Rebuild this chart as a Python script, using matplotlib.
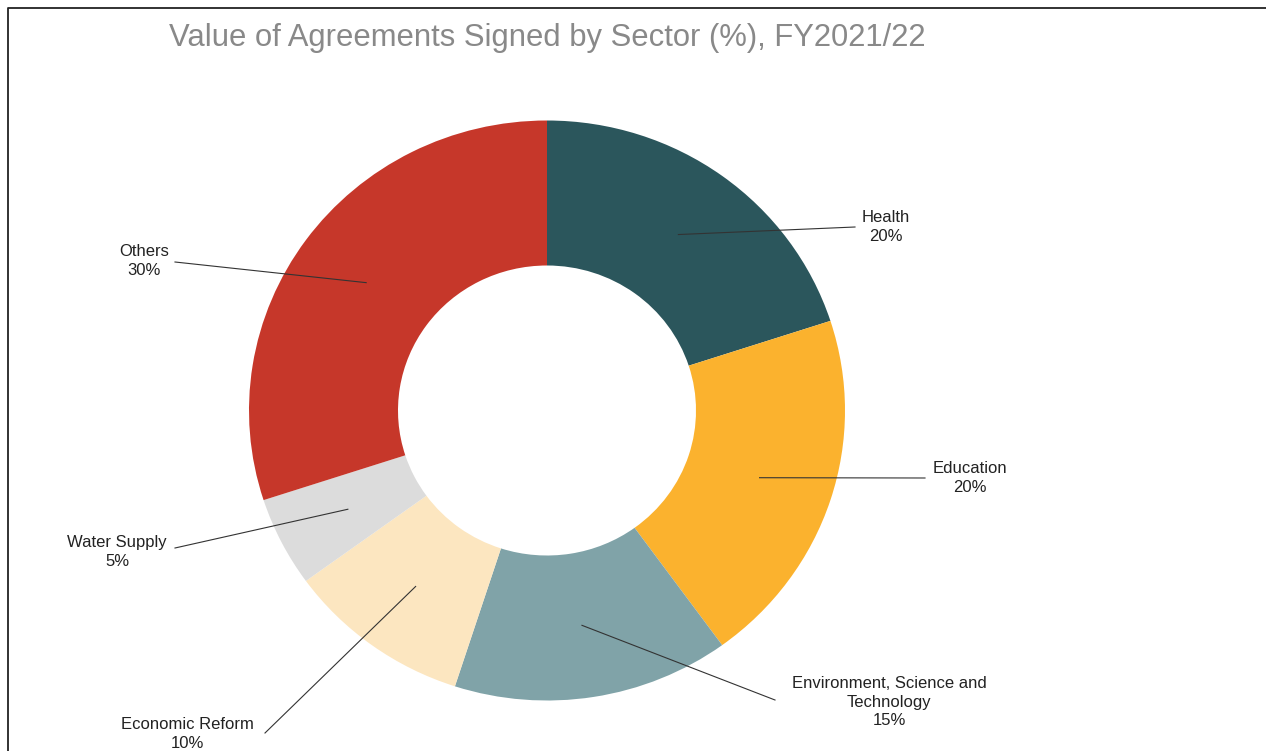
import numpy as np
import matplotlib.pyplot as plt

plt.rcParams['font.family'] = ['Liberation Sans', 'DejaVu Sans']

# Dane
setores = ['Health', 'Education', 'Environment, Science and\nTechnology',
           'Economic Reform', 'Water Supply', 'Others']
valores = [20, 20, 15, 10, 5, 30]
cores = ['#2B565C', '#FBB22E', '#80A3A8', '#FCE6C0', '#DCDCDC', '#C6372A']

# posicoes dos rotulos (pixels, origem no canto superior esquerdo)
pos_rotulos = [(886, 227), (970, 478), (889, 702), (187, 734), (117, 552), (144, 261)]
fim_linha = [(855, 227), (925, 478), (775, 700), (265, 733), (175, 548), (175, 262)]

W, H = 1266, 751
esc = 298 / 290  # anel levemente achatado na vertical


def py(y):
    return (H - y) * esc


fig = plt.figure(figsize=(W / 100, H / 100), dpi=100)
ax = fig.add_axes([0, 0, 1, 1])

cx, cy, R = 547, py(410.5), 298
wedges, _ = ax.pie(valores, colors=cores, startangle=90, counterclock=False,
                   center=(cx, cy), radius=R, frame=True,
                   wedgeprops=dict(width=R * 0.5, linewidth=0))
ax.set_aspect('auto')
ax.set_xlim(0, W)
ax.set_ylim(0, H * esc)
ax.axis('off')

for w, nome, v, (tx, ty), (lx, ly) in zip(wedges, setores, valores, pos_rotulos, fim_linha):
    ang = np.deg2rad((w.theta1 + w.theta2) / 2)
    r = R * 0.75
    sx, sy = cx + r * np.cos(ang), cy + r * np.sin(ang)
    ax.plot([sx, lx], [sy, py(ly)], color='#333333', lw=0.8)
    ax.text(tx, py(ty), f'{nome}\n{v}%', ha='center', va='center',
            fontsize=12, color='#222222', linespacing=1.28)

ax.text(547, py(38), 'Value of Agreements Signed by Sector (%), FY2021/22',
        ha='center', va='center', fontsize=22.3, color='#898989')

# moldura
ax.plot([7.5, 7.5, W + 5], [-5, py(7.5), py(7.5)], color='#222222', lw=1.3, clip_on=False)

fig.savefig('out.png', dpi=100)
